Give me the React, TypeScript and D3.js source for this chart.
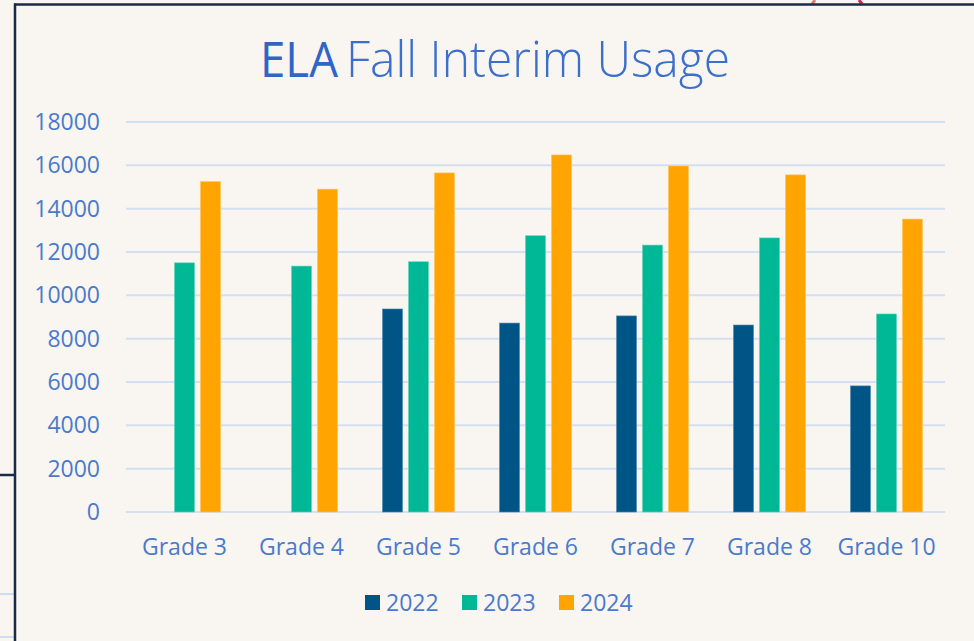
import React from "react";
import * as d3 from "d3";

const categories = ["Grade 3", "Grade 4", "Grade 5", "Grade 6", "Grade 7", "Grade 8", "Grade 10"];
const seriesNames = ["2022", "2023", "2024"];
const values2022 = [0, 0, 9370, 8720, 9050, 8630, 5820];
const values2023 = [11500, 11350, 11550, 12750, 12320, 12650, 9140];
const values2024 = [15250, 14900, 15650, 16480, 15970, 15560, 13520];
const yTicks = [0, 2000, 4000, 6000, 8000, 10000, 12000, 14000, 16000, 18000];
const colors = ["#005587", "#00b896", "#ffa400"];
const strokeColors = ["#4f87ad", "#5fd2b8", "#ffc55a"];

const W = 974;
const H = 641;
const FONT = "'Open Sans', 'Noto Sans', sans-serif";
const TEXT = "#4a7acb";

export default function App() {
  const series = [values2022, values2023, values2024];
  const x0 = d3.scaleBand<string>().domain(categories).range([126, 945]).paddingInner(0).paddingOuter(0);
  const x1 = d3.scaleBand<string>().domain(seriesNames).range([-36, 36]).paddingInner(0.23).paddingOuter(0);
  const y = d3.scaleLinear().domain([0, 18000]).range([512, 122]);

  const legendX = [365, 462, 559];

  return (
    <svg width={W} height={H} style={{ position: "absolute", left: 0, top: 0, display: "block" }}>
      <rect x={0} y={0} width={W} height={H} fill="#f9f6f2" />
      {/* outside strip details */}
      <line x1={0} x2={14} y1={475} y2={475} stroke="#1b2a47" strokeWidth={2.5} />
      <line x1={0} x2={14} y1={594} y2={594} stroke="#cfdcf0" strokeWidth={2} />
      <line x1={0} x2={14} y1={637} y2={637} stroke="#cfdcf0" strokeWidth={2} />
      {/* red marks above frame */}
      <line x1={812} x2={815} y1={4} y2={0} stroke="#e07a6a" strokeWidth={3} />
      <line x1={859} x2={862} y1={0} y2={4} stroke="#e0204a" strokeWidth={3} />
      {/* frame */}
      <line x1={15} x2={15} y1={3.5} y2={H} stroke="#1b2a47" strokeWidth={2.5} />
      <line x1={14} x2={W} y1={4.5} y2={4.5} stroke="#1b2a47" strokeWidth={2.5} />

      {/* title */}
      <text y={77} fontFamily={FONT} fontSize={50} fill="#2f65c6">
        <tspan x={260} fontWeight={500} textLength={78} lengthAdjust="spacingAndGlyphs">ELA</tspan>
        <tspan x={346} fontWeight={300} fill="#3a6fcb" textLength={384} lengthAdjust="spacingAndGlyphs">Fall Interim Usage</tspan>
      </text>

      {/* grid */}
      {yTicks.map((t) => (
        <g key={t}>
          <line x1={126} x2={945} y1={y(t)} y2={y(t)} stroke="#d3dff2" strokeWidth={2} />
          <text x={100} y={y(t)} dy="0.35em" textAnchor="end" fontFamily={FONT} fontSize={23} fill={TEXT}>
            {t}
          </text>
        </g>
      ))}

      {/* bars */}
      {categories.map((c, i) => {
        const cx = (x0(c) as number) + x0.bandwidth() / 2;
        return (
          <g key={c}>
            {seriesNames.map((s, j) => {
              const v = series[j][i];
              if (!v) return null;
              const bx = cx + (x1(s) as number);
              return (
                <rect
                  key={s}
                  x={bx}
                  y={y(v)}
                  width={x1.bandwidth()}
                  height={y(0) - y(v)}
                  fill={colors[j]}
                  stroke={strokeColors[j]}
                  strokeWidth={0.6}
                />
              );
            })}
            <text x={cx} y={547} dy="0.35em" textAnchor="middle" fontFamily={FONT} fontSize={23} fill={TEXT}>
              {c}
            </text>
          </g>
        );
      })}

      {/* legend */}
      {seriesNames.map((s, j) => (
        <g key={s}>
          <rect x={legendX[j]} y={595} width={15} height={15} fill={colors[j]} />
          <text x={legendX[j] + 21} y={603} dy="0.35em" fontFamily={FONT} fontSize={23} fill={TEXT}>
            {s}
          </text>
        </g>
      ))}
    </svg>
  );
}
